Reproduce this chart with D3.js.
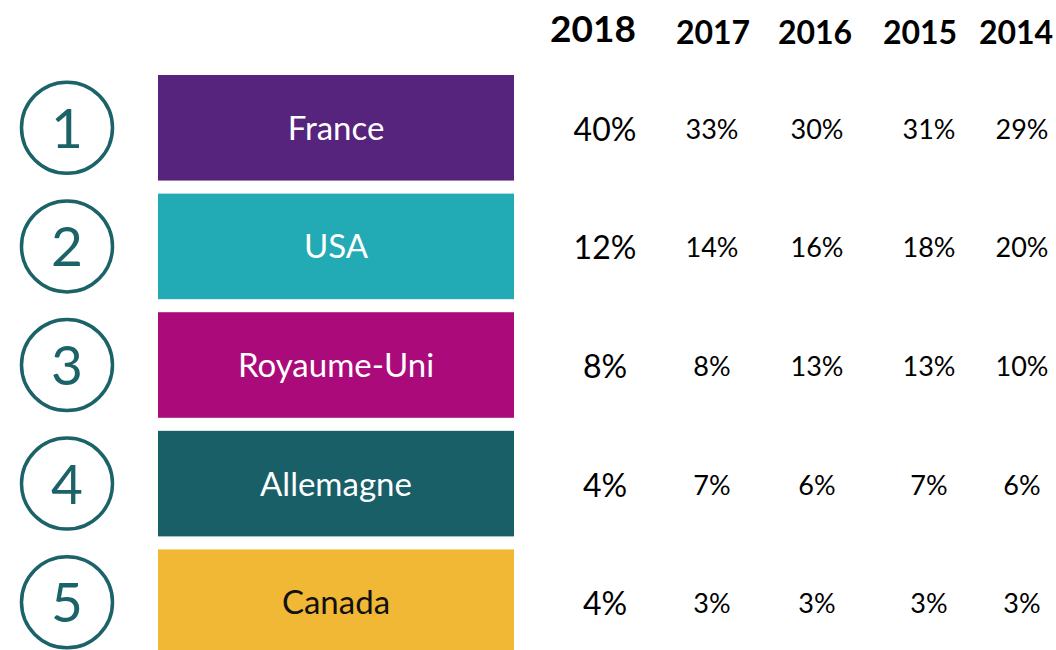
<!DOCTYPE html>
<html><head><meta charset="utf-8">
<script src="https://cdn.jsdelivr.net/npm/d3@7"></script>
<style>body{margin:0;background:#fff}svg{display:block}text{font-family:Lato,"Open Sans",sans-serif}</style>
</head><body>
<svg id="c" width="1056" height="650"></svg>
<script>
const ranks = [1, 2, 3, 4, 5];
const countries = ["France", "USA", "Royaume-Uni", "Allemagne", "Canada"];
const colors = ["#56237D", "#22AAB5", "#AB0A7A", "#185F68", "#F1B835"];
const labelColors = ["#fff", "#fff", "#fff", "#fff", "#111"];
const years = ["2018", "2017", "2016", "2015", "2014"];
const v2018 = [40, 12, 8, 4, 4];
const v2017 = [33, 14, 8, 7, 3];
const v2016 = [30, 16, 13, 6, 3];
const v2015 = [31, 18, 13, 7, 3];
const v2014 = [29, 20, 10, 6, 3];
const series = [v2018, v2017, v2016, v2015, v2014];

const svg = d3.select("#c");
const y = d3.scaleBand().domain(countries).range([75, 655]).paddingInner(0.11).paddingOuter(0);
const xHead = d3.scaleOrdinal().domain(years).range([593, 713, 815, 920, 1016]);
const xVal = d3.scaleOrdinal().domain(years).range([605, 712, 817, 929, 1022]);

// headers
svg.selectAll("text.yr").data(years).join("text")
  .attr("class", "yr")
  .attr("x", d => xHead(d))
  .attr("y", (d, i) => i === 0 ? 42 : 44)
  .attr("text-anchor", "middle")
  .attr("font-weight", "bold")
  .attr("font-size", (d, i) => i === 0 ? 37 : 32)
  .attr("fill", "#000")
  .text(d => d);

const rows = svg.selectAll("g.row").data(countries).join("g").attr("class", "row");

rows.append("rect")
  .attr("x", 158).attr("width", 356)
  .attr("y", d => y(d)).attr("height", y.bandwidth())
  .attr("fill", (d, i) => colors[i]);

rows.append("text")
  .attr("x", 336)
  .attr("y", d => y(d) + y.bandwidth() / 2 + 12)
  .attr("text-anchor", "middle")
  .attr("font-size", 33)
  .attr("fill", (d, i) => labelColors[i])
  .text(d => d);

rows.append("circle")
  .attr("cx", 67)
  .attr("cy", d => y(d) + y.bandwidth() / 2)
  .attr("r", 45.5)
  .attr("fill", "none")
  .attr("stroke", "#1B6368")
  .attr("stroke-width", 3.5);

rows.append("text")
  .attr("x", 67)
  .attr("y", d => y(d) + y.bandwidth() / 2 + 20)
  .attr("text-anchor", "middle")
  .attr("font-size", 55)
  .attr("fill", "#1B6368")
  .text((d, i) => ranks[i]);

years.forEach((yr, j) => {
  rows.append("text")
    .attr("x", xVal(yr))
    .attr("y", d => y(d) + y.bandwidth() / 2 + (j === 0 ? 13 : 11))
    .attr("text-anchor", "middle")
    .attr("font-size", j === 0 ? 32 : 27)
    .attr("fill", "#000")
    .text((d, i) => series[j][i] + "%");
});
</script>
</body></html>
